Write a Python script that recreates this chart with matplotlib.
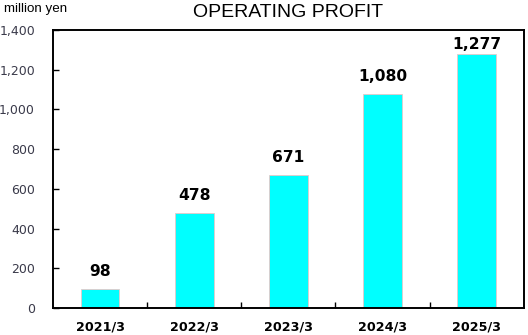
import numpy as np
import matplotlib.pyplot as plt
from matplotlib.ticker import FuncFormatter

years = ['2021/3', '2022/3', '2023/3', '2024/3', '2025/3']
profit = [98, 478, 671, 1080, 1277]
yticks = [0, 200, 400, 600, 800, 1000, 1200, 1400]

fig = plt.figure(figsize=(5.28, 3.35), dpi=100)
ax = fig.add_axes([0.1004, 0.0806, 0.8916, 0.8298])

x = np.arange(len(years))
ax.bar(x, profit, width=0.41, color='#00ffff', edgecolor='#e8c8c8', linewidth=0.6, zorder=2)

# value labels above bars (pushed down a bit if too close to the top)
for xi, v in zip(x, profit):
    off = 7 if v < 1200 else 2
    ax.annotate(f'{v:,}', (xi, v), xytext=(0, off), textcoords='offset points',
                ha='center', va='bottom', fontsize=11.2, fontweight='bold',
                family='DejaVu Sans', color='black')

ax.set_xlim(-0.5, len(years) - 0.5)
ax.set_ylim(0, 1400)
ax.set_yticks(yticks)
ax.yaxis.set_major_formatter(FuncFormatter(lambda v, p: f'{int(v):,}'))
ax.tick_params(axis='y', direction='in', length=4, width=1, labelsize=9,
               labelcolor='#3a3a4a', pad=13)

ax.set_xticks(x)
ax.set_xticklabels(years, fontsize=9.2, fontweight='bold')
ax.set_xticks(x[:-1] + 0.5, minor=True)
ax.tick_params(axis='x', which='major', length=0, pad=9)
ax.tick_params(axis='x', which='minor', direction='in', length=4, width=1)

for s in ax.spines.values():
    s.set_linewidth(1.4)
    s.set_color('black')

fig.text(0.545, 0.962, 'OPERATING PROFIT', ha='center', va='center',
         fontsize=14, family='Liberation Sans')
fig.text(0.008, 0.972, 'million yen', ha='left', va='center',
         fontsize=9.6, family='Liberation Sans')

fig.savefig('out.png', dpi=100)
